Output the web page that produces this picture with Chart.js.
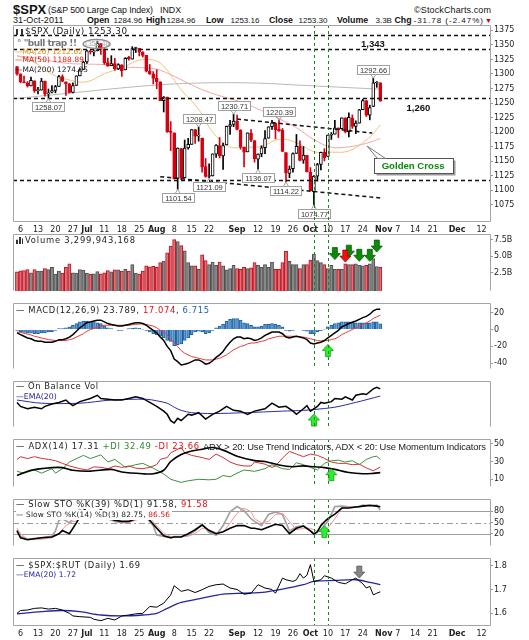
<!DOCTYPE html>
<html lang="en">
<head>
<meta charset="UTF-8">
<meta name="viewport" content="width=device-width, initial-scale=1.0">
<title>$SPX Daily</title>
<script src="https://cdn.jsdelivr.net/npm/chart.js@4.4.1/dist/chart.umd.min.js"></script>
<style>
  html, body { margin: 0; padding: 0; background: #fff; }
  #page { position: relative; width: 529px; height: 640px; overflow: hidden; font-family: "DejaVu Sans", sans-serif; color: #222; }
  .pane { position: absolute; left: 0; width: 529px; }
  .hd { position: absolute; font-family: "Liberation Sans", Arial, sans-serif; white-space: nowrap; line-height: 10px; font-size: 8px; color: #111; }
  .hd.b { font-weight: bold; font-size: 8.8px; }
  .lg { position: absolute; z-index: 2; white-space: nowrap; font-size: 8.4px; line-height: 9px; color: #222; }
  .sm { font-size: 7.4px; }
  .red { color: #e01010; }
  .blu { color: #2060b0; }
  .nav { color: #1a1aa6; }
  .grn { color: #2a8a2a; }
  .ic { display: inline-block; width: 3px; height: 6px; border-left: 2px solid #333; border-right: 2px solid #333; margin-right: 2px; vertical-align: -1px; }
  .vi { display: inline-block; width: 7px; height: 7px; margin-right: 2px; vertical-align: -1px;
        background: linear-gradient(to right, #333 0 2px, transparent 2px 3px, #333 3px 5px, transparent 5px 6px, #333 6px 7px);
        clip-path: polygon(0 40%, 2px 40%, 2px 0, 5px 0, 5px 20%, 7px 20%, 7px 100%, 0 100%); }
</style>
</head>
<body>
<div id="page">
  <div class="hd" style="left:13px;top:3px;font-size:13px;line-height:14px;font-weight:bold">$SPX</div>
  <div class="hd" data-r="153" style="left:48px;top:5px;font-size:8.8px">(S&amp;P 500 Large Cap Index)</div>
  <div class="hd" style="left:160px;top:5px;font-size:8.8px">INDX</div>
  <div class="hd" data-r="491" style="left:414px;top:5px;font-size:9px">&copy;StockCharts.com</div>

  <div class="hd" data-r="63.5" style="left:13px;top:15px;font-size:9px">31-Oct-2011</div>
  <div class="hd b" style="left:87px;top:15px">Open</div>
  <div class="hd" style="left:113.5px;top:15.5px">1284.96</div>
  <div class="hd b" style="left:146px;top:15px">High</div>
  <div class="hd" style="left:166.5px;top:15.5px">1284.96</div>
  <div class="hd b" style="left:206px;top:15px">Low</div>
  <div class="hd" style="left:230.5px;top:15.5px">1253.16</div>
  <div class="hd b" style="left:269px;top:15px">Close</div>
  <div class="hd" style="left:298.5px;top:15.5px">1253.30</div>
  <div class="hd b" style="left:337px;top:15px">Volume</div>
  <div class="hd" style="left:375.5px;top:15.5px">3.3B</div>
  <div class="hd b" style="left:394.5px;top:15px">Chg</div>
  <div class="hd" data-r="483" style="left:413.5px;top:15.5px">-31.78 (-2.47%)</div>
  <div class="hd" style="left:485px;top:15.5px;color:#d00000;font-size:7px">&#9660;</div>

  <div class="pane" style="top:25px;height:209px"><canvas id="cMain"></canvas></div>
  <div class="pane" style="top:234px;height:69px"><canvas id="cVol"></canvas></div>
  <div class="pane" style="top:303px;height:78px"><canvas id="cMacd"></canvas></div>
  <div class="pane" style="top:381px;height:58px"><canvas id="cObv"></canvas></div>
  <div class="pane" style="top:439px;height:60px"><canvas id="cAdx"></canvas></div>
  <div class="pane" style="top:499px;height:59px"><canvas id="cSto"></canvas></div>
  <div class="pane" style="top:558px;height:80px"><canvas id="cRatio"></canvas></div>

  <!-- panel legends -->
  <div class="lg" data-r="127" style="left:16px;top:26.5px;font-size:8.8px"><span class="ic"></span>$SPX (Daily) 1253.30</div>
  <div class="lg" data-r="72" style="left:17px;top:38.5px;font-size:9px;color:#777;font-weight:bold">&deg; "bull trap !!</div>
  <div class="lg sm" data-r="83" style="left:15px;top:46.5px;color:#e08a10">&mdash;MA(20) 1212.62</div>
  <div class="lg sm" data-r="84" style="left:15px;top:55px;color:#e01010">&mdash;MA(50) 1188.89</div>
  <div class="lg sm" data-r="88" style="left:15px;top:65px">&mdash;MA(200) 1274.05</div>

  <div class="lg" data-r="135" style="left:16px;top:236px"><span class="vi"></span>Volume 3,299,943,168</div>
  <div class="lg" data-r="209" style="left:16px;top:305.5px">&mdash; MACD(12,26,9) 23.789, <span class="red">17.074</span>, <span class="blu">6.715</span></div>
  <div class="lg" data-r="98" style="left:16px;top:382.3px">&mdash; On Balance Vol</div>
  <div class="lg nav" style="left:16px;top:391.7px;font-size:7.8px">&mdash;EMA(20)</div>
  <div class="lg" data-r="199" style="left:16px;top:442px">&mdash; ADX(14) 17.31 <span class="grn">+DI 32.49</span> <span class="red">-DI 23.66</span></div>
  <div class="lg" data-r="486" style="left:203px;top:441.5px;font-family:'Liberation Sans',Arial,sans-serif;font-size:9.4px">ADX &gt; 20: Use Trend Indicators, ADX &lt; 20: Use Momentum Indicators</div>
  <div class="lg" data-r="207.5" style="left:16px;top:499.6px;background:#fff;padding-right:2px">&mdash; Slow STO %K(39) %D(1) 91.58, <span class="red">91.58</span></div>
  <div class="lg sm" data-r="170" style="left:16px;top:509.7px;line-height:10px;background:#fff;padding-right:2px">&mdash; Slow STO %K(14) %D(3) 82.75, <span class="red">86.56</span></div>
  <div class="lg" data-r="140" style="left:16px;top:560.7px">&mdash; $SPX:$RUT (Daily) 1.69</div>
  <div class="lg nav sm" data-r="76" style="left:16px;top:569.8px;font-size:7.6px">&mdash;EMA(20) 1.72</div>
</div>

<script>
// trading day index 0 = 3 Jun 2011 ... 104 = 31 Oct 2011
const prevClose0 = 1312.94;
const open = [1312.94,1300.26,1286.31,1284.63,1279.63,1288.26,1271.31,1272.22,1287.87,1265.53,
  1268.58,1271.50,1278.40,1295.48,1286.60,1283.04,1268.44,1280.21,1296.85,1307.64,
  1320.64,1339.59,1337.56,1339.62,1352.39,1343.31,1319.61,1314.45,1317.74,1308.87,
  1315.94,1307.07,1328.66,1325.65,1343.80,1344.32,1337.39,1331.91,1304.84,1300.12,
  1292.59,1286.56,1254.25,1260.23,1200.28,1198.48,1120.23,1171.77,1121.30,1172.87,
  1178.86,1204.22,1192.89,1189.62,1140.47,1123.55,1124.36,1162.16,1176.69,1158.85,
  1177.91,1209.76,1213.00,1219.12,1203.90,1173.97,1165.85,1197.98,1185.37,1153.50,
  1162.59,1173.32,1189.44,1209.21,1214.99,1204.50,1203.63,1164.55,1128.82,1136.91,
  1163.32,1175.39,1151.74,1159.93,1131.21,1097.42,1124.03,1144.11,1165.03,1158.15,
  1194.60,1196.19,1206.96,1205.65,1224.47,1200.75,1223.46,1209.92,1215.39,1238.72,
  1254.19,1229.17,1243.97,1284.39,1284.96];
const high = [1312.94,1300.26,1296.22,1287.04,1294.54,1288.26,1277.04,1292.50,1287.87,1274.11,
  1279.82,1280.42,1297.62,1298.61,1286.60,1283.93,1284.91,1296.80,1309.21,1321.97,
  1341.01,1340.89,1340.94,1356.48,1352.39,1343.31,1327.17,1331.48,1326.88,1317.70,
  1315.94,1328.14,1330.43,1347.00,1346.10,1344.32,1338.51,1331.91,1316.32,1304.16,
  1307.38,1286.56,1261.20,1260.23,1218.11,1198.48,1172.88,1171.77,1186.29,1189.04,
  1204.49,1204.22,1208.47,1189.62,1154.54,1145.49,1162.35,1178.56,1190.68,1181.23,
  1210.28,1220.10,1230.71,1229.29,1203.90,1173.97,1198.62,1204.40,1185.37,1162.52,
  1176.41,1202.38,1209.11,1220.06,1214.99,1220.39,1206.30,1164.55,1141.72,1164.19,
  1195.86,1184.71,1175.09,1159.93,1138.99,1125.12,1146.07,1165.55,1171.40,1194.91,
  1199.24,1220.25,1207.46,1224.61,1224.47,1233.10,1229.64,1219.36,1239.03,1256.55,
  1254.19,1246.28,1292.66,1287.08,1284.96];
const low = [1297.90,1284.72,1284.74,1277.42,1279.63,1268.28,1265.64,1272.22,1261.90,1258.07,
  1267.40,1267.56,1278.40,1286.79,1262.87,1267.24,1267.53,1280.21,1296.85,1307.64,
  1318.18,1334.30,1330.92,1339.62,1333.71,1316.42,1313.33,1314.45,1306.51,1307.35,
  1295.92,1307.07,1323.65,1325.65,1336.95,1331.09,1329.10,1303.49,1299.16,1282.86,
  1274.73,1254.03,1234.56,1199.54,1168.09,1119.28,1101.54,1118.01,1121.30,1170.74,
  1178.86,1180.53,1184.36,1131.03,1122.05,1121.09,1124.36,1156.30,1155.47,1135.91,
  1177.91,1195.77,1209.35,1203.85,1170.56,1140.13,1165.85,1183.34,1148.37,1136.07,
  1157.44,1162.73,1189.44,1204.46,1188.36,1201.29,1166.21,1114.22,1121.36,1131.07,
  1163.32,1150.40,1146.18,1131.34,1098.92,1074.77,1115.68,1134.95,1150.26,1158.15,
  1187.30,1196.19,1190.58,1205.65,1198.55,1191.48,1206.31,1197.34,1215.39,1238.72,
  1226.79,1221.06,1243.97,1277.01,1253.16];
const close = [1300.16,1286.17,1284.94,1279.56,1289.00,1270.98,1271.83,1287.87,1265.42,1267.64,
  1271.50,1278.36,1295.52,1287.14,1283.50,1268.45,1280.10,1296.67,1307.41,1320.64,
  1339.67,1337.88,1339.22,1353.22,1343.80,1319.49,1313.64,1317.72,1308.87,1316.14,
  1305.44,1326.73,1325.84,1343.80,1345.02,1337.43,1331.94,1304.89,1300.67,1292.28,
  1286.94,1254.05,1260.34,1200.07,1199.38,1119.46,1172.53,1120.76,1172.64,1178.81,
  1204.49,1192.76,1193.89,1140.65,1123.53,1123.82,1162.35,1177.60,1159.27,1176.80,
  1210.08,1212.92,1218.89,1204.42,1173.97,1165.24,1198.62,1185.90,1154.23,1162.27,
  1172.87,1188.68,1209.11,1216.01,1204.09,1202.09,1166.76,1129.56,1136.43,1162.95,
  1175.38,1151.06,1160.40,1131.42,1099.23,1123.95,1144.03,1164.97,1155.46,1194.89,
  1195.54,1207.25,1203.66,1224.58,1200.86,1225.38,1209.88,1215.39,1238.25,1254.19,
  1229.05,1242.00,1284.59,1285.09,1253.30];
// volume, billions
const volume = [2.6,2.75,2.8,2.95,2.45,2.95,2.7,2.7,3.1,2.95,
  3.3,2.25,2.7,2.4,3.3,3.8,2.45,2.4,2.95,2.85,
  2.4,2.25,2.3,2.65,2.3,2.45,2.8,2.6,2.9,2.9,
  2.7,3.0,2.7,3.7,2.4,2.25,2.7,3.5,3.35,3.45,
  3.3,4.0,4.25,5.5,6.5,7.5,7.2,6.6,5.8,4.0,
  3.5,3.5,3.0,5.2,4.3,3.7,4.1,3.6,4.1,3.5,
  2.9,3.1,3.6,3.1,3.0,3.3,3.1,3.2,4.0,3.6,
  3.3,3.7,3.3,4.1,3.0,3.0,4.0,5.7,4.2,3.7,
  3.7,3.1,3.7,3.7,4.4,5.3,4.3,4.0,3.7,3.1,
  3.6,3.0,3.0,3.0,3.8,3.7,3.7,3.8,3.6,3.5,
  3.6,3.8,4.6,3.4,3.3];

// price overlays: [day, value]
const ma20 = [[0,1331.6],[5,1320],[10,1299.5],[15,1289.6],[20,1286.6],[25,1300.5],[30,1310.4],[35,1323.7],
  [40,1322.3],[43,1306.5],[45,1289.3],[48,1265.6],[50,1253.7],[53,1230.2],[55,1208.5],[58,1186.6],[60,1177],
  [62,1172.9],[65,1174.1],[70,1175.3],[75,1187.6],[80,1181.8],[85,1166.3],[90,1165.4],[95,1167.5],
  [100,1186.3],[102,1197.1],[104,1212.62]];
const ma50 = [[0,1331],[5,1328],[10,1322],[15,1318],[20,1317],[25,1316],[30,1312],[35,1311],[40,1308],
  [45,1296],[50,1281],[55,1268.5],[60,1259],[65,1250],[70,1237],[75,1223],[80,1207.5],[85,1187],
  [90,1174],[95,1174.6],[100,1180.6],[104,1188.89]];
const ma200 = [[0,1258],[10,1264],[20,1270],[30,1276],[40,1281],[50,1284],[60,1285],[70,1284],
  [80,1281],[90,1278],[100,1275],[104,1274.05]];

// MACD(12,26,9), daily
const macd = [-4,-6,-8,-10,-11,-13,-14,-14,-15,-15,
  -15,-14,-12,-12,-11,-9,-6,-2,2,5,
  8,9,10,11,11,9,7,6,5,4,
  4,5,6,7,8,8,7,5,2,-1,
  -4,-9,-13,-20,-25,-35,-38,-42,-41,-40,
  -38,-36,-36,-38,-41,-40,-37,-33,-30,-26,
  -20,-15,-11,-9,-9,-11,-10,-11,-13,-12,
  -10,-7,-5,-3,-3,-3,-5,-9,-10,-9,
  -8,-9,-10,-12,-16,-17,-16,-15,-13,-10,
  -7,-4,-1,3,5,7,8.5,10,12,14,
  15.5,18,22,24,23.789];
const macdSignal = [-3,-3.5,-4.5,-5.5,-6.5,-8,-9,-10,-11,-12,
  -12.5,-13,-13,-13,-13,-12,-11,-9,-7,-5,
  -2,0,1,3,4,5,5,5,5,5,
  5,5,5,5.5,6,6.5,6.5,6,5,4,
  2,-1,-3,-7,-11,-16,-20,-25,-28,-30,
  -32,-33,-34,-35,-36,-36,-36,-35,-34,-32,
  -30,-27,-24,-22,-20,-19,-17,-16,-16,-15,
  -14,-13,-11,-10,-9,-8,-8,-8,-8,-8,
  -8,-9,-9,-10,-11,-12,-13,-13.5,-13.5,-13,
  -12,-11,-9,-6,-4,-2,0,2,4,6,
  8,10,13,15,17.074];
const macdHist = [-1,-2.5,-3.5,-4.5,-4.5,-5,-5,-4,-4,-3,
  -2.5,-1,1,1,2,3,5,7,9,10,
  10,9,9,8,7,4,2,1,0,-1,
  -1,0,1,1.5,2,1.5,0.5,-1,-3,-5,
  -6,-8,-10,-13,-14,-19,-18,-17,-13,-10,
  -6,-3,-2,-3,-5,-4,-1,2,4,6,
  10,12,13,13,11,8,7,5,3,3,
  4,6,6,7,6,5,3,-1,-2,-1,
  0,0,-1,-2,-5,-5,-3,-1.5,0.5,3,
  5,7,8,9,9,9,8.5,8,8,8,
  7.5,8,9,9,6.715];

// On Balance Volume (relative units) and its EMA(20)
const obv = [[0,31],[1,26],[3,23],[5,25],[7,23],[8,26],[10,29],[12,31],[14,34],[15,30],[16,27],[18,32],
  [21,36],[23,40],[24,36],[26,35],[28,34],[30,34],[32,36],[34,38],[36,36],[38,31],[40,26],[42,20],
  [43,16],[44,8],[45,5],[46,11],[47,8],[49,16],[50,15],[52,18],[54,10],[56,16],[58,20],[60,26],
  [62,21],[64,20],[66,16],[68,20],[71,23],[73,30],[75,25],[77,26],[79,20],[80,16],[82,23],[83,27],
  [84,20],[86,26],[87,31],[88,30],[90,32],[91,36],[93,35],[94,38],[96,34],[97,40],[99,42],[100,41],
  [102,48],[103,50],[104,48]];
const obvEma = [[0,34],[7,30],[18,30],[27,34],[37,35],[40,33],[43,30],[45,25],[47,21],[50,18],
  [56,17],[65,18],[76,20],[82,21],[85,22],[91,25],[97,31],[104,39]];

// ADX(14), +DI, -DI
const adx = [[0,14],[4,20],[10,23],[13,23],[16,20],[21,19],[27,21],[30,18],[36,16],[39,16],[42,20],
  [44,30],[47,38],[50,42],[53,44],[56,46],[59,43],[63,36],[68,31],[71,30],[75,26],[79,24],[82,25],
  [85,24],[88,23],[91,21],[95,17.5],[99,16],[102,16.5],[104,17.31]];
const plusDI = [[0,18.8],[2,16.7],[5,20.3],[7,16.7],[10,21.8],[11,16.7],[13,21.8],[15,29.4],[19,37],
  [21,33.4],[24,37.6],[26,29.4],[28,32.4],[30,26.4],[31,23.3],[34,26.4],[36,27.9],[39,22.4],[42,15.8],
  [44,9.7],[47,6.1],[49,8],[52,9.7],[55,9.1],[57,9.7],[59,14],[61,12.5],[63,16.7],[65,20.3],[68,18.8],
  [71,21.8],[73,26.4],[74,24.9],[76,21.8],[78,21],[80,28.5],[82,26.4],[84,23.3],[86,20.3],[88,27.9],
  [90,30.9],[92,31.5],[94,29.4],[96,30.9],[98,26.4],[100,32.4],[102,35.5],[103,36],[104,32.49]];
const minusDI = [[0,32.4],[1,35.5],[3,33.4],[5,35.5],[7,33.6],[9,32.4],[11,30.9],[13,27.9],[15,24.9],
  [18,21.8],[20,20.3],[22,23.9],[24,23.3],[26,21.8],[28,24.9],[30,23.3],[32,24.9],[34,22.4],[36,21.8],
  [38,23.3],[40,26.4],[41,32.4],[43,34.5],[44,40],[47,46],[48,40],[50,37],[53,34.5],[55,32.4],[57,38.5],
  [59,34.5],[61,29.4],[63,26.4],[65,24.9],[67,24.9],[68,29.4],[71,27],[73,23.3],[74,24.9],[76,33.9],
  [78,41.5],[80,38.5],[82,35.5],[84,38.5],[86,37],[88,33.6],[90,29.4],[92,27.9],[94,27.9],[96,26.4],
  [98,27],[100,22.7],[102,19.4],[104,23.66]];

// Slow stochastics
const stoK39 = [[0,28],[1,10],[3,5],[7,10],[10,12],[12,20.6],[13,29],[15,20.6],[17,49],[19,81],[20,90],
  [22,94],[23,96],[24,85],[25,70],[26,62],[28,56],[30,53],[32,53],[34,60],[36,72],[38,56],[40,35],
  [42,15],[44,10],[45,12],[47,12],[49,20.6],[51,31],[53,43.5],[55,29],[57,20.6],[59,26],[61,35],[63,42],
  [65,42],[67,35],[68,35],[70,31],[72,38.5],[74,45.6],[76,42],[78,20.6],[80,35],[82,40.7],[84,28],
  [85,20],[86,26],[87,42],[88,52],[89,60],[90,66],[91,72],[92,80],[93,88],[95,88],[97,90.6],[99,93],
  [101,95.5],[103,93],[104,91.58]];
const stoK14 = [[0,31],[1,13.5],[3,6.4],[7,9.9],[10,13.5],[11,27.8],[12,56],[13,60],[15,49],[16,60],
  [18,85],[20,95],[22,97],[23,96],[24,80],[25,68],[26,60],[28,53],[30,49],[32,53],[34,60],[36,67],
  [37,64],[39,42],[40,17],[42,13.5],[44,10],[45,13],[47,13],[49,17],[51,28],[53,46],[55,24],[57,17],
  [59,42],[61,78],[63,92],[65,81],[67,60],[68,53],[70,42],[72,71],[74,78],[76,71],[78,28],[80,38.5],
  [82,42],[84,28],[85,19],[87,31],[89,53],[91,92],[93,93],[95,91],[98,92],[99,95.5],[101,93],
  [103,95.5],[104,82.75]];
const stoD3 = [[0,35],[1,20.6],[3,6],[7,6],[10,10],[12,20.6],[14,42],[16,53],[17,53],[18,71],[20,88],
  [22,95],[23,96],[24,88],[25,75],[26,66],[28,57],[30,50],[32,50],[34,56],[36,63],[38,63],[40,41],
  [42,22],[44,13],[45,12],[47,13],[49,14],[51,21],[53,35],[55,31],[57,23],[59,24],[61,49],[63,74],
  [65,88],[67,78],[68,60],[70,49],[72,53],[74,71],[76,74],[78,53],[80,31],[82,35],[84,35],[86,27],
  [88,28],[89,36],[91,60],[93,88],[95,92],[98,91],[99,92],[101,95],[103,93],[104,86.56]];

// $SPX:$RUT ratio and EMA(20)
const ratio = [[0,1.599],[1,1.611],[3,1.613],[5,1.62],[7,1.622],[9,1.617],[11,1.62],[13,1.613],[15,1.599],
  [16,1.588],[18,1.585],[21,1.582],[22,1.574],[24,1.568],[26,1.578],[28,1.571],[30,1.588],[32,1.592],
  [34,1.597],[36,1.599],[38,1.628],[40,1.625],[42,1.642],[44,1.677],[45,1.716],[47,1.692],[49,1.699],
  [51,1.687],[53,1.699],[55,1.713],[57,1.72],[59,1.723],[61,1.706],[63,1.70],[65,1.68],[67,1.684],
  [69,1.72],[71,1.706],[73,1.70],[74,1.684],[76,1.748],[77,1.741],[79,1.734],[80,1.741],[81,1.767],
  [82,1.748],[83,1.76],[84,1.805],[85,1.734],[87,1.741],[88,1.758],[90,1.748],[92,1.73],[94,1.724],
  [96,1.741],[97,1.748],[99,1.724],[100,1.706],[101,1.713],[102,1.677],[103,1.684],[104,1.69]];
const ratioEma = [[0,1.597],[7,1.606],[13,1.611],[18,1.606],[24,1.592],[30,1.588],[36,1.592],[40,1.599],
  [43,1.62],[47,1.645],[53,1.663],[59,1.68],[65,1.684],[71,1.689],[76,1.701],[82,1.72],[85,1.734],
  [91,1.738],[97,1.741],[101,1.73],[104,1.72]];

// axes
const tickIdx = [1,6,11,16,20,25,30,35,40,45,50,55,63,69,74,79,84,89,94,99,105,109,114,119,126,133];
const tickText = ['6','13','20','27','Jul','11','18','25','Aug','8','15','22','Sep','12','19','26','Oct','10','17','24','Nov','7','14','21','Dec','12'];
const priceTicks = [1075,1100,1125,1150,1175,1200,1225,1250,1275,1300,1325,1350,1375];
const volTicks = [2.5, 5, 7.5];
const macdTicks = [-40, -20, 0, 20];
const adxTicks = [10, 20, 30, 40, 50];
const stoTicks = [20, 50, 80];
const ratioTicks = [1.6, 1.7, 1.8];

// annotations
const greenIdx = [85, 89];
const levels = [1366.5, 1342.5, 1259.5, 1117];
const trends = [[63, 1222.5, 101.7, 1198.4], [41, 1123.2, 104.2, 1086.5]];
const peaks = [[9,1258.07,'b'],[52,1208.47,'a'],[62,1230.71,'a'],[75,1220.39,'a'],[46,1101.54,'b'],
  [55,1121.09,'b'],[69,1136.07,'b'],[77,1114.22,'b'],[85,1074.77,'b'],[102,1292.66,'a']];
const volArrows = [[91,4.46],[95,4.83],[98,4.2],[101,4.2],[103,5.6]];

const XMIN = -1.15, XMAX = 135.7;

Chart.defaults.font.family = '"DejaVu Sans", sans-serif';
Chart.defaults.animation = false;
Chart.defaults.events = [];

const pts = arr => arr.map(([x, y]) => ({ x, y }));
const daily = arr => arr.map((y, x) => ({ x, y }));
const X = (c, i) => c.scales.x.getPixelForValue(i);
const Y = (c, v) => c.scales.y.getPixelForValue(v);

const candleColor = close.map((c, i) => c >= (i ? close[i - 1] : prevClose0) ? '#000' : '#d80010');
const bodyFill = close.map((c, i) => c > open[i] ? '#fff' : candleColor[i]);
const volFill = candleColor.map(k => k === '#000' ? '#8a8a8a' : '#d9737b');
const volEdge = candleColor.map(k => k === '#000' ? '#505050' : '#c4101c');

function seg(ctx, x0, y0, x1, y1) { ctx.beginPath(); ctx.moveTo(x0, y0); ctx.lineTo(x1, y1); ctx.stroke(); }

function hline(c, v, dash, color, w) {
  const ctx = c.ctx, a = c.chartArea, y = Math.round(Y(c, v)) + 0.5;
  ctx.save(); ctx.strokeStyle = color; ctx.lineWidth = w; ctx.setLineDash(dash);
  seg(ctx, a.left, y, a.right, y); ctx.restore();
}

function arrow(c, i, v, dir, fill, edge) {
  const ctx = c.ctx, x = X(c, i), y = Y(c, v), d = dir === 'up' ? 1 : -1;
  ctx.save();
  ctx.beginPath();
  ctx.moveTo(x, y);
  ctx.lineTo(x + 5.5, y + 6 * d); ctx.lineTo(x + 2.5, y + 6 * d); ctx.lineTo(x + 2.5, y + 12 * d);
  ctx.lineTo(x - 2.5, y + 12 * d); ctx.lineTo(x - 2.5, y + 6 * d); ctx.lineTo(x - 5.5, y + 6 * d);
  ctx.closePath();
  ctx.fillStyle = fill; ctx.fill();
  ctx.strokeStyle = edge; ctx.lineWidth = 0.8; ctx.stroke();
  ctx.restore();
}

function tag(c, i, v, above) {
  const ctx = c.ctx, x = X(c, i), y = Y(c, v), t = v.toFixed(2);
  ctx.save();
  ctx.font = '7.5px "Liberation Sans", Arial, sans-serif';
  const w = Math.round(ctx.measureText(t).width + 5), h = 9;
  const bx = Math.round(x - w / 2) + 0.5, by = Math.round(above ? y - 4 - h : y + 4) + 0.5;
  ctx.strokeStyle = '#a0a0a0'; ctx.lineWidth = 1;
  ctx.beginPath();
  ctx.moveTo(x - 2.5, above ? by + h : by); ctx.lineTo(x, y); ctx.lineTo(x + 2.5, above ? by + h : by);
  ctx.stroke();
  ctx.fillStyle = '#fff'; ctx.fillRect(bx, by, w, h); ctx.strokeRect(bx, by, w, h);
  ctx.fillStyle = '#333'; ctx.textAlign = 'center'; ctx.textBaseline = 'middle';
  ctx.fillText(t, bx + w / 2, by + h / 2 + 0.5);
  ctx.restore();
}

const decos = {};

Chart.register({
  id: 'panelDeco',
  beforeDatasetsDraw(c) {
    const d = decos[c.canvas.id];
    if (d && d.under) { c.ctx.save(); d.under(c); c.ctx.restore(); }
  },
  afterDatasetsDraw(c) {
    const d = decos[c.canvas.id] || {}, ctx = c.ctx, a = c.chartArea;
    if (d.over) {
      ctx.save();
      ctx.beginPath(); ctx.rect(a.left, a.top, a.right - a.left, a.bottom - a.top); ctx.clip();
      d.over(c);
      ctx.restore();
    }
    ctx.save();
    ctx.strokeStyle = '#138a13'; ctx.lineWidth = 1; ctx.setLineDash([3, 3]);
    greenIdx.forEach(i => {
      const x = Math.round(X(c, i)) + 0.5;
      seg(ctx, x, a.top, x, d.greenToEdge ? c.height : a.bottom);
    });
    ctx.restore();
    ctx.save();
    ctx.strokeStyle = '#a4a4a4'; ctx.lineWidth = 1;
    const l = Math.round(a.left) + 0.5, r = Math.round(a.right) - 0.5;
    const t = Math.round(a.top) + 0.5, b = Math.round(a.bottom) - 0.5;
    ctx.beginPath();
    ctx.moveTo(l, b); ctx.lineTo(l, t); ctx.lineTo(r, t); ctx.lineTo(r, b);
    if (d.bottomEdge) { ctx.moveTo(l, b); ctx.lineTo(r, b); }
    ctx.stroke();
    ctx.restore();
    // date row under the price and ratio panels
    if (d.dates) {
      ctx.save();
      ctx.fillStyle = '#222'; ctx.textAlign = 'center'; ctx.textBaseline = 'middle';
      tickIdx.forEach((i, k) => {
        const t = tickText[k];
        ctx.font = (/^[A-Z]/.test(t) ? 'bold ' : '') + '8px "DejaVu Sans", sans-serif';
        ctx.fillText(t, X(c, i), a.bottom + 7.5);
      });
      ctx.restore();
    }
  }
});

function xAxis(show) {
  return {
    type: 'linear', min: XMIN, max: XMAX, display: show, offset: false,
    grid: { display: false }, border: { display: false },
    afterBuildTicks: s => { s.ticks = tickIdx.map(v => ({ value: v })); },
    afterFit: s => { s.height = 12; s.paddingLeft = 0; s.paddingRight = 0; },
    ticks: { display: false, autoSkip: false, maxRotation: 0 }
  };
}

function yAxis(min, max, vals, fmt) {
  return {
    position: 'right', min, max,
    grid: { display: vals.length > 0, drawOnChartArea: false, drawTicks: true, tickLength: 2, color: '#999' },
    border: { display: false },
    afterBuildTicks: s => { s.ticks = vals.map(v => ({ value: v })); },
    afterFit: s => { s.width = 38; s.paddingTop = 0; s.paddingBottom = 0; },
    ticks: { display: vals.length > 0, padding: 1, color: '#222', font: { size: 8 }, callback: fmt }
  };
}

function panel(id, datasets, y, showX, deco) {
  decos[id] = Object.assign({ dates: showX }, deco || {});
  return new Chart(document.getElementById(id), {
    type: 'line',
    data: { datasets },
    options: {
      responsive: true, maintainAspectRatio: false, animation: false,
      layout: { padding: { left: 13, right: 0, top: 0, bottom: 0 } },
      elements: { point: { radius: 0 }, line: { borderWidth: 1, tension: 0 } },
      scales: { x: xAxis(showX), y },
      plugins: { legend: { display: false }, tooltip: { enabled: false } }
    }
  });
}

const line = (data, color, width, extra) => Object.assign({ type: 'line', data, borderColor: color, borderWidth: width, pointRadius: 0, fill: false }, extra || {});

// price panel
panel('cMain', [
  line(pts(ma200), '#b8b8b8', 1, { tension: 0.4, order: 5 }),
  line(pts(ma50), '#f3a7a7', 1, { tension: 0.4, order: 5 }),
  line(pts(ma20), '#f2c27c', 1, { tension: 0.4, order: 5 }),
  { type: 'bar', data: close.map((c, i) => ({ x: i, y: [low[i], high[i]] })), backgroundColor: candleColor,
    barThickness: 1, grouped: false, order: 2 },
  { type: 'bar', data: close.map((c, i) => ({ x: i, y: [open[i], c] })), backgroundColor: bodyFill,
    borderColor: candleColor, borderWidth: 1, borderSkipped: false, barThickness: 3, minBarLength: 1,
    grouped: false, order: 1 }
], yAxis(1045.2, 1384.3, priceTicks, v => String(v)), true, {
  greenToEdge: true, bottomEdge: true,
  over: c => {
    const ctx = c.ctx, a = c.chartArea;
    ctx.save(); ctx.strokeStyle = '#111'; ctx.lineWidth = 1.5; ctx.setLineDash([4, 3]);
    levels.forEach(v => { const y = Math.round(Y(c, v)) + 0.5; seg(ctx, a.left, y, a.right, y); });
    trends.forEach(([i0, v0, i1, v1]) => seg(ctx, X(c, i0), Y(c, v0), X(c, i1), Y(c, v1)));
    ctx.restore();
    peaks.forEach(([i, v, p]) => tag(c, i, v, p === 'a'));
    // "bull trap" ring around the July top
    ctx.save();
    ctx.strokeStyle = '#8c8c8c'; ctx.lineWidth = 1.4;
    ctx.beginPath(); ctx.ellipse(X(c, 22.8), Y(c, 1351.6), 13.5, 4.5, 0, 0, Math.PI * 2); ctx.stroke();
    ctx.fillStyle = '#aaa'; ctx.font = '7px "Liberation Sans", Arial'; ctx.textAlign = 'center'; ctx.textBaseline = 'middle';
    ctx.fillText('1356.48', X(c, 22.8), Y(c, 1351.6));
    ctx.restore();
    // level captions
    ctx.save();
    ctx.fillStyle = '#111'; ctx.font = 'bold 9.5px "Liberation Sans", Arial'; ctx.textAlign = 'center'; ctx.textBaseline = 'middle';
    ctx.fillText('1,343', X(c, 101.9), Y(c, 1350.2));
    ctx.fillText('1,260', X(c, 114.9), Y(c, 1241.6));
    ctx.restore();
    // Golden Cross callout
    ctx.save();
    const gx = X(c, 113.4), gy = Y(c, 1141.6), tx = X(c, 100.2), ty = Y(c, 1176);
    const bw = 79, bh = 15, bl = Math.round(gx - bw / 2) + 0.5, bt = Math.round(gy - bh / 2) + 0.5;
    ctx.fillStyle = '#9a9a9a'; ctx.fillRect(bl + 2, bt + 2, bw, bh);
    ctx.fillStyle = '#fff'; ctx.fillRect(bl, bt, bw, bh);
    ctx.strokeStyle = '#555'; ctx.lineWidth = 1; ctx.strokeRect(bl, bt, bw, bh);
    ctx.beginPath(); ctx.moveTo(bl + 3, bt); ctx.lineTo(tx, ty); ctx.lineTo(bl + 11, bt); ctx.closePath();
    ctx.fillStyle = '#fff'; ctx.fill(); ctx.strokeStyle = '#777'; ctx.stroke();
    ctx.fillStyle = '#0a8a0a'; ctx.font = 'bold 9.6px "Liberation Sans", Arial'; ctx.textAlign = 'center'; ctx.textBaseline = 'middle';
    ctx.fillText('Golden Cross', gx, gy + 0.5);
    ctx.restore();
  }
});

// volume
panel('cVol', [
  { type: 'bar', data: daily(volume), backgroundColor: volFill, borderColor: volEdge, borderWidth: 1,
    barThickness: 3.2, grouped: false, base: -0.31 }
], yAxis(-0.31, 8.35, volTicks, v => v.toFixed(1) + 'B'), false, {
  over: c => {
    volArrows.forEach(([i, v]) => arrow(c, i, v, 'down', '#0a8a0a', '#035c03'));
    arrow(c, 94, 4.08, 'down', '#ee1111', '#a00000');
  }
});

// MACD
panel('cMacd', [
  { type: 'bar', data: daily(macdHist), backgroundColor: '#5b9bd5', borderColor: '#22609e', borderWidth: 1,
    barThickness: 3, grouped: false, order: 3 },
  line(daily(macdSignal), '#e83a3a', 1, { order: 2 }),
  line(daily(macd), '#000', 1.5, { order: 1 })
], yAxis(-46.7, 31.3, macdTicks, v => String(v)), false, {
  over: c => arrow(c, 89, -17.7, 'up', '#2cf02c', '#14a014')
});

// On Balance Volume
panel('cObv', [
  line(pts(obvEma), '#2a2aa8', 1, { tension: 0.3, order: 2 }),
  line(pts(obv), '#000', 1.5, { order: 1 })
], yAxis(0, 58, [], v => ''), false, {
  over: c => arrow(c, 85, 16.3, 'up', '#2cf02c', '#14a014')
});

// ADX
panel('cAdx', [
  line(pts(plusDI), '#3d8f3d', 1, { order: 3 }),
  line(pts(minusDI), '#c93434', 1, { order: 2 }),
  line(pts(adx), '#000', 1.6, { tension: 0.3, order: 1 })
], yAxis(0.9, 55.7, adxTicks, v => String(v)), false, {
  over: c => arrow(c, 90, 21.8, 'up', '#2cf02c', '#14a014')
});

// Slow stochastics
panel('cSto', [
  line(pts(stoK14), '#a2a2a2', 1.7, { order: 3 }),
  line(pts(stoD3), '#f39494', 1, { order: 2 }),
  line(pts(stoK39), '#000', 1.6, { order: 1 })
], yAxis(-11.6, 111.8, stoTicks, v => String(v)), false, {
  under: c => {
    hline(c, 80, [], '#9c9c9c', 1);
    hline(c, 20, [], '#9c9c9c', 1);
    hline(c, 50, [6, 3, 2, 3], '#9c9c9c', 1);
  },
  over: c => arrow(c, 88, 42, 'up', '#2cf02c', '#14a014')
});

// $SPX:$RUT
panel('cRatio', [
  line(pts(ratioEma), '#2424a4', 1.3, { tension: 0.3, order: 2 }),
  line(pts(ratio), '#000', 1, { order: 1 })
], yAxis(1.5455, 1.833, ratioTicks, v => v.toFixed(1)), true, {
  bottomEdge: true,
  over: c => arrow(c, 98, 1.748, 'down', '#858585', '#5a5a5a')
});

// nudge letter spacing a little so each caption ends where the original one does
document.querySelectorAll('[data-r]').forEach(el => {
  const n = Math.max(1, el.textContent.length - 1);
  const cs = getComputedStyle(el);
  const cur = parseFloat(cs.letterSpacing) || 0;
  const right = el.getBoundingClientRect().right - (parseFloat(cs.paddingRight) || 0);
  const ls = Math.min(1.2, Math.max(-0.5, cur + (+el.dataset.r - right) / n));
  el.style.letterSpacing = ls.toFixed(3) + 'px';
});
</script>
</body>
</html>
